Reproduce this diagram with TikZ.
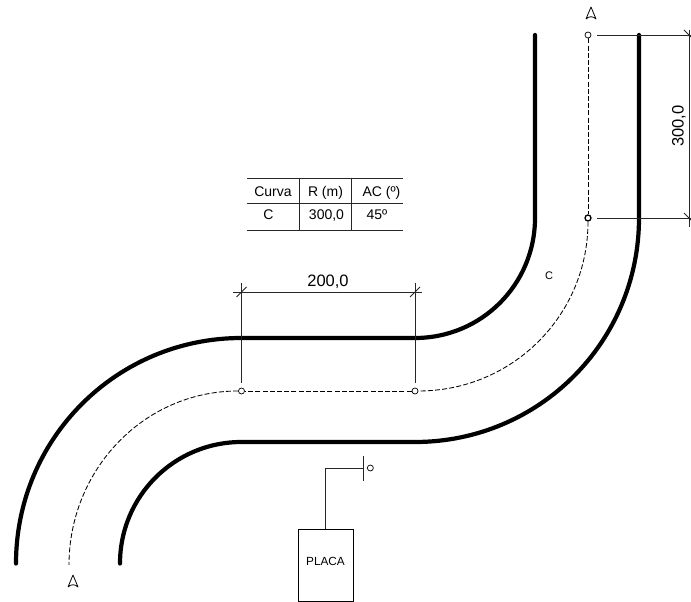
\documentclass[tikz,border=0pt]{standalone}
\usepackage{fontspec}
\setmainfont{Liberation Sans}
\usepackage{tikz}
\usetikzlibrary{positioning}

\begin{document}
\begin{tikzpicture}[x=1pt, y=1pt, c/.style={circle, draw, fill=white, inner sep=0pt, minimum size=6pt, line width=.7pt}, road/.style={line width=4.2pt, line cap=round}, eje/.style={dash pattern=on 5pt off 2.2pt, line width=.85pt}, thin line/.style={line width=.8pt, draw=black!85}, marca/.style={line width=.8pt, line join=round}, tabla/.style={anchor=base, font=\fontsize{14}{16}\selectfont}, cota/.style={anchor=base, font=\fontsize{16.5}{18}\selectfont}]
		\useasboundingbox (0,0) rectangle (691,602);

		% eje
		\node[c] (P1) at (588,567) {};
		\node[c, line width=1.3pt] (P2) at (588,384) {};
		\node[c] (P3) at (415,211) {};
		\node[c] (P4) at (241.5,211) {};
		\coordinate (P5) at (69,37);

		\draw[eje] (P1) -- (P2);
		\draw[eje] (P2) to[out=-90, in=0] (P3);
		\draw[eje] (P3) -- (P4);
		\draw[eje] (P4) to[out=180, in=90] (P5);

		% bordes
		\coordinate (L1) at (535,567);
		\coordinate (L2) at (535,384);
		\coordinate (L3) at (415,264);
		\coordinate (L4) at (241.5,264);
		\coordinate (L5) at (16,38.5);
		\coordinate (R1) at (639,567);
		\coordinate (R2) at (639,384);
		\coordinate (R3) at (415,160);
		\coordinate (R4) at (241.5,160);
		\coordinate (R5) at (120,38.5);

		\draw[road] (L1) -- (L2) to[out=-90, in=0] (L3) -- (L4) to[out=180, in=90] (L5);
		\draw[road] (R1) -- (R2) to[out=-90, in=0] (R3) -- (R4) to[out=180, in=90] (R5);

		% cota 300,0
		\coordinate (H1) at (597,567);
		\coordinate (H2) at (691,567);
		\coordinate (H3) at (597,384);
		\coordinate (H4) at (691,384);
		\coordinate (V1) at (689,572);
		\coordinate (V2) at (689,375);
		\draw[thin line] (H1) -- (H2);
		\draw[thin line] (H3) -- (H4);
		\draw[thin line] (V1) -- (V2);
		\draw[thin line] (684,572) -- (691,565);
		\draw[thin line] (684,389) -- (691,382);
		\node[cota, rotate=90] (C300) at (683.5,476) {300,0};

		% cota 200,0
		\coordinate (D1) at (233,310);
		\coordinate (D2) at (422,310);
		\coordinate (T1) at (241.5,319);
		\coordinate (T2) at (241.5,219);
		\coordinate (T3) at (415,319);
		\coordinate (T4) at (415,219);
		\draw[thin line] (D1) -- (D2);
		\draw[thin line] (T1) -- (T2);
		\draw[thin line] (T3) -- (T4);
		\draw[thin line] (236.5,305) -- (246.5,315);
		\draw[thin line] (410,305) -- (420,315);
		\node[cota] (C200) at (328,315) {200,0};

		% tabla
		\coordinate (A1) at (247,424);
		\coordinate (A2) at (403,424);
		\coordinate (A3) at (247,399);
		\coordinate (A4) at (403,399);
		\coordinate (A5) at (247,372);
		\coordinate (A6) at (403,372);
		\coordinate (A7) at (299,424);
		\coordinate (A8) at (299,372);
		\coordinate (A9) at (351,424);
		\coordinate (A10) at (351,372);
		\draw[thin line] (A1) -- (A2);
		\draw[thin line] (A3) -- (A4);
		\draw[thin line] (A5) -- (A6);
		\draw[thin line] (A7) -- (A8);
		\draw[thin line] (A9) -- (A10);
		\node[tabla] (Curva) at (273,405) {Curva};
		\node[tabla] (Rm) at (325.5,405) {R (m)};
		\node[tabla] (AC) at (381.5,405) {AC (º)};
		\node[tabla] (CC) at (268.5,382.5) {C};
		\node[tabla] (R300) at (326.5,382.5) {300,0};
		\node[tabla] (G45) at (377,382.5) {45º};

		\node[font=\fontsize{11}{12}\selectfont] (Clabel) at (549,326) {C};

		% seccion A
		\draw[marca] (586,583) -- (591,595) -- (596,583) .. controls (593,586) and (589,586) .. (586,583);
		\draw[marca] (68,15) -- (73,27) -- (78,15) .. controls (75,18) and (71,18) .. (68,15);

		% placa
		\node[draw, line width=.8pt, minimum width=55pt, minimum height=72pt, text height=8.5pt, text depth=6.5pt, font=\fontsize{11.8}{13}\selectfont] (PLACA) at (325.5,37) {PLACA};
		\coordinate (B1) at (363,134);
		\coordinate (B2) at (363,146);
		\coordinate (B3) at (363,121);
		\node[c, right=4pt of B1] (B4) {};
		\draw[thin line] (PLACA.north) |- (B1);
		\draw[thin line] (B2) -- (B3);
	\end{tikzpicture}
\end{document}
